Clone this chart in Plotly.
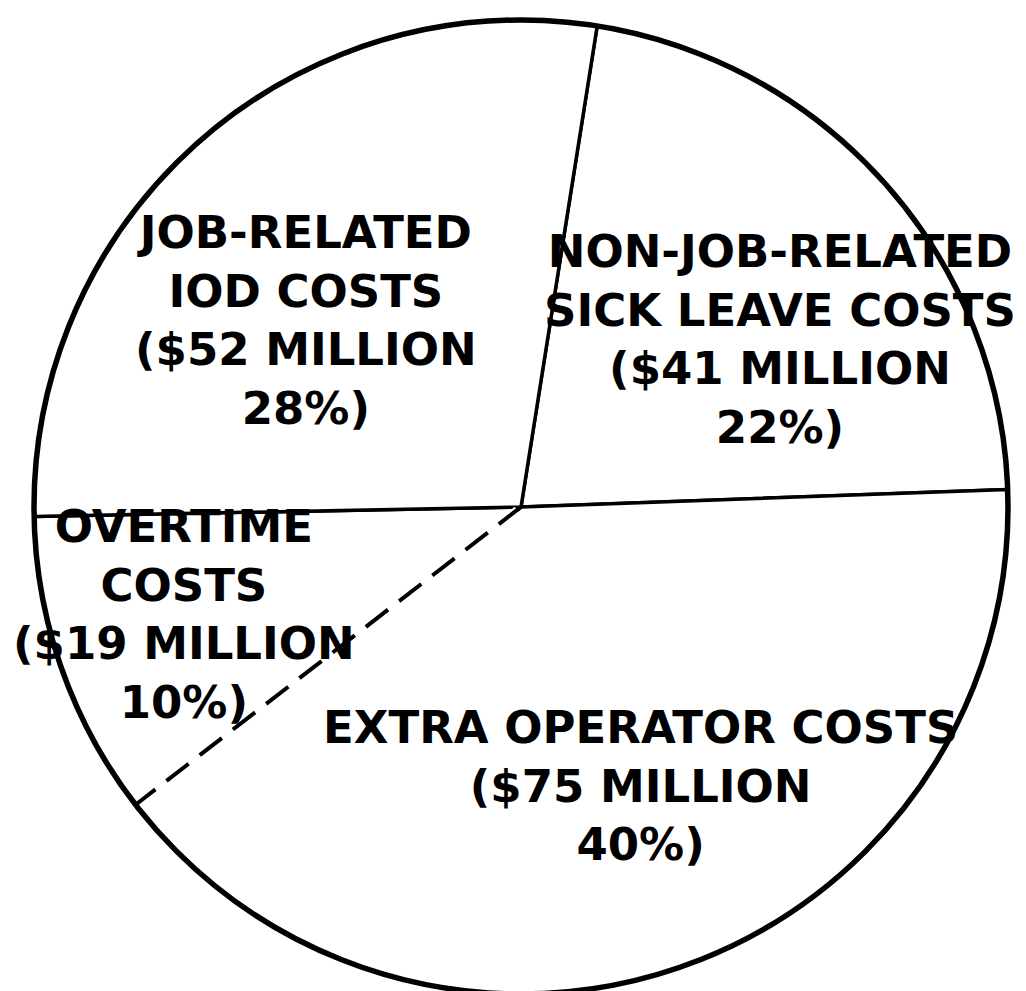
import math
import plotly.graph_objects as go

# ---- data ----
categories = ["NON-JOB-RELATED\nSICK LEAVE COSTS", "EXTRA OPERATOR COSTS", "OVERTIME\nCOSTS", "JOB-RELATED\nIOD COSTS"]
values_millions = [41, 75, 19, 52]
label_lines = [
    ["NON-JOB-RELATED", "SICK LEAVE COSTS"],
    ["EXTRA OPERATOR COSTS"],
    ["OVERTIME", "COSTS"],
    ["JOB-RELATED", "IOD COSTS"],
]

# ---- layout constants ----
W, H = 1026, 991
ML, MR, MT = 26, 26, 12
PW = W - ML - MR          # 974 -> square plot area
MB = H - MT - PW
ROT = 9                   # start angle (deg, clockwise from 12 o'clock)
FONT = dict(family="DejaVu Sans", size=45, color="black", weight="bold")

total = sum(values_millions)
pcts = [round(100 * v / total) for v in values_millions]


def px_to_paper(px, py):
    return (px - ML) / PW, 1 - (py - MT) / PW


fig = go.Figure(
    go.Pie(
        labels=[c.replace("\n", " ") for c in categories],
        values=values_millions,
        sort=False,
        direction="clockwise",
        rotation=ROT,
        textinfo="none",
        hoverinfo="none",
        showlegend=False,
        marker=dict(colors=["white"] * 4, line=dict(color="black", width=3.5)),
        domain=dict(x=[0, 1], y=[0, 1]),
    )
)

# dashed boundary between EXTRA OPERATOR and OVERTIME slices (angle from data)
cum = values_millions[0] + values_millions[1]
theta = math.radians(ROT + 360 * cum / total)
sx, sy = math.sin(theta), math.cos(theta)
fig.add_shape(type="line", xref="paper", yref="paper",
              x0=0.5 + 0.5 * 0.01 * sx, y0=0.5 + 0.5 * 0.01 * sy,
              x1=0.5 + 0.5 * 0.99 * sx, y1=0.5 + 0.5 * 0.99 * sy,
              line=dict(color="white", width=8), layer="above")
fig.add_shape(type="line", xref="paper", yref="paper",
              x0=0.5, y0=0.5, x1=0.5 + 0.5 * sx, y1=0.5 + 0.5 * sy,
              line=dict(color="black", width=4, dash="28px,14px"), layer="above")

# heavier outer rim of the pie (same circle as the pie domain)
fig.add_shape(type="circle", xref="paper", yref="paper", x0=0, y0=0, x1=1, y1=1,
              line=dict(color="black", width=5.5), layer="above")

# label text blocks (pixel centres)
label_pos = [(772, 331), (632, 778), (176, 606), (298, 312)]
for lines, v, p, (cx, cy) in zip(label_lines, values_millions, pcts, label_pos):
    text = "<br>".join(lines + [f"(${v} MILLION", f"{p}%)"])
    xp, yp = px_to_paper(cx, cy)
    fig.add_annotation(x=xp, y=yp, xref="paper", yref="paper", text=text,
                       showarrow=False, font=FONT, align="center",
                       xanchor="center", yanchor="middle")

fig.update_layout(
    width=W, height=H,
    margin=dict(l=ML, r=MR, t=MT, b=MB, autoexpand=False),
    paper_bgcolor="white", plot_bgcolor="white",
)

fig.write_html("out.html")
